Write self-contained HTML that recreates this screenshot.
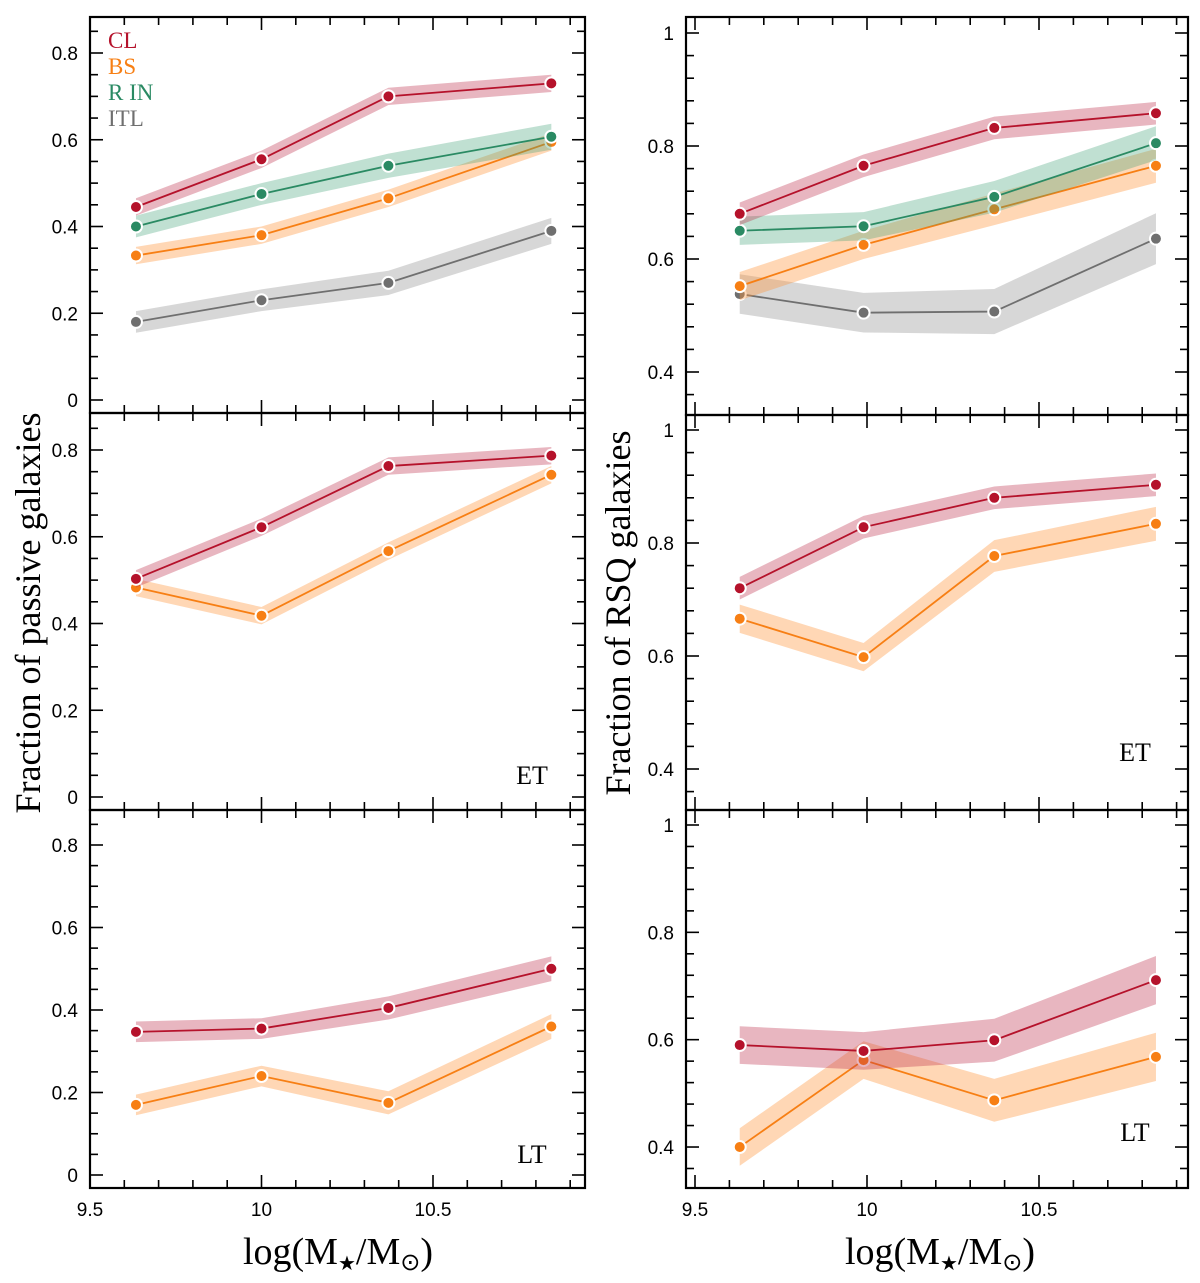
<!DOCTYPE html>
<html><head><meta charset="utf-8"><style>
body{margin:0;background:#fff}
svg text{font-family:"Liberation Sans",sans-serif}
.serif{font-family:"Liberation Serif",serif}
</style></head><body>
<svg id="chart" width="1200" height="1278" xmlns="http://www.w3.org/2000/svg"></svg>
<script>
const xValsL=[9.634,10.0,10.37,10.845];
const xValsR=[9.63,9.99,10.37,10.84];
const xTicks=[9.5,10,10.5];
const yTicksL=[0,0.2,0.4,0.6,0.8];
const yTicksR=[0.4,0.6,0.8,1];
// left top
const ltCL=[0.445,0.555,0.70,0.73], ltBS=[0.333,0.38,0.465,0.595], ltRIN=[0.40,0.475,0.54,0.607], ltITL=[0.18,0.23,0.27,0.39];
// left ET
const leCL=[0.503,0.622,0.763,0.787], leBS=[0.483,0.418,0.567,0.743];
// left LT
const llCL=[0.347,0.355,0.405,0.50], llBS=[0.17,0.24,0.175,0.36];
// right top
const rtCL=[0.68,0.765,0.832,0.858], rtBS=[0.552,0.625,0.688,0.765], rtRIN=[0.65,0.658,0.71,0.805], rtITL=[0.538,0.505,0.507,0.636];
// right ET
const reCL=[0.72,0.828,0.88,0.903], reBS=[0.666,0.598,0.777,0.834];
// right LT
const rlCL=[0.59,0.579,0.599,0.711], rlBS=[0.40,0.562,0.487,0.568];
// band half-widths
const bandSmall=[0.02,0.02,0.02,0.02], bandMid=[0.025,0.025,0.028,0.03], bandWide=[0.035,0.035,0.04,0.045];

const NS="http://www.w3.org/2000/svg";
const svg=document.getElementById('chart');
function el(tag,attrs,parent){const e=document.createElementNS(NS,tag);for(const k in attrs)e.setAttribute(k,attrs[k]);(parent||svg).appendChild(e);return e;}
const COL={CL:['#b5122b','rgba(190,45,75,0.35)'],BS:['#f77f14','rgba(255,150,60,0.38)'],RIN:['#2a8a63','rgba(60,160,115,0.32)'],ITL:['#6f6f6f','rgba(150,150,150,0.38)']};

function panel(name,box,xa,ya,yTicks,yMinor,series,tag,showX){
  const g=el('g',{});
  
  
  const X=v=>xa[0]+(v-9.5)*xa[1];
  const Y=v=>ya[0]-v*ya[1];
  series.forEach(s=>{
    const c=COL[s.k];
    const up=s.xs.map((x,i)=>X(x)+','+Y(s.v[i]+s.b[i])).join(' ');
    const dn=s.xs.map((x,i)=>X(x)+','+Y(s.v[i]-s.b[i])).reverse().join(' ');
    const band=el('polygon',{points:up+' '+dn,fill:c[1]},g);
    
    
    const line=el('polyline',{points:s.xs.map((x,i)=>X(x)+','+Y(s.v[i])).join(' '),fill:'none',stroke:c[0],'stroke-width':1.8},g);
    
    
    s.xs.forEach((x,i)=>{
      const p=el('circle',{cx:X(x),cy:Y(s.v[i]),r:6,fill:c[0],stroke:'#fff','stroke-width':2},g);
      
      
    });
  });
  const f=el('rect',{x:box[0],y:box[1],width:box[2]-box[0],height:box[3]-box[1],fill:'none',stroke:'#000','stroke-width':2.2},g);
  
  
  for(let t=9.4;t<=11.0001;t+=0.1){
    const x=X(t); if(x<box[0]+1||x>box[2]-1)continue;
    const maj=Math.abs(t*2-Math.round(t*2))<1e-6;
    const L=maj?13:8;
    el('line',{x1:x,x2:x,y1:box[3],y2:box[3]-L,stroke:'#000','stroke-width':1.6},g);
    el('line',{x1:x,x2:x,y1:box[1],y2:box[1]+L,stroke:'#000','stroke-width':1.6},g);
  }
  if(showX) xTicks.forEach(t=>{
    const tx=el('text',{x:X(t),y:box[3]+28,'font-size':19,'text-anchor':'middle'},g);
    tx.textContent=String(t);
    
    
  });
  for(let v=-0.2;v<=1.2;v+=yMinor){
    const y=Y(v); if(y<box[1]+1||y>box[3]-1)continue;
    const maj=yTicks.some(t=>Math.abs(t-v)<1e-6);
    const L=maj?13:8;
    el('line',{x1:box[0],x2:box[0]+L,y1:y,y2:y,stroke:'#000','stroke-width':1.6},g);
    el('line',{x1:box[2],x2:box[2]-L,y1:y,y2:y,stroke:'#000','stroke-width':1.6},g);
  }
  yTicks.forEach(t=>{
    const y=Y(t); if(y<box[1]||y>box[3])return;
    const tx=el('text',{x:box[0]-12,y:y+7,'font-size':19,'text-anchor':'end'},g);
    tx.textContent=String(t);
    
    
  });
  if(tag){
    const tx=el('text',{x:tag[1],y:tag[2],'font-size':26,'text-anchor':'middle',class:'serif'},g);
    tx.textContent=tag[0];
    
    
  }
}
const S=(k,xs,v,b)=>({k,xs,v,b});
const xaL=[90,343], xaR=[695,344];
panel('left-top-panel',[90,17,585,413],xaL,[400,433.75],yTicksL,0.05,
 [S('ITL',xValsL,ltITL,bandMid),S('BS',xValsL,ltBS,bandSmall),S('RIN',xValsL,ltRIN,bandMid),S('CL',xValsL,ltCL,bandSmall)],null,false);
panel('left-et-panel',[90,413,585,810],xaL,[797,433.75],yTicksL,0.05,
 [S('BS',xValsL,leBS,bandSmall),S('CL',xValsL,leCL,bandSmall)],['ET',532,784],false);
panel('left-lt-panel',[90,810,585,1188],xaL,[1175,412.5],yTicksL,0.05,
 [S('BS',xValsL,llBS,bandMid),S('CL',xValsL,llCL,bandMid)],['LT',532,1163],true);
panel('right-top-panel',[686,17,1188,415],xaR,[33+565,565],yTicksR,0.04,
 [S('ITL',xValsR,rtITL,bandWide),S('BS',xValsR,rtBS,bandMid),S('RIN',xValsR,rtRIN,bandMid),S('CL',xValsR,rtCL,bandSmall)],null,false);
panel('right-et-panel',[686,415,1188,810],xaR,[430+565,565],yTicksR,0.04,
 [S('BS',xValsR,reBS,bandMid),S('CL',xValsR,reCL,bandSmall)],['ET',1135,761],false);
panel('right-lt-panel',[686,810,1188,1188],xaR,[825+536.7,536.7],yTicksR,0.04,
 [S('BS',xValsR,rlBS,bandWide),S('CL',xValsR,rlCL,bandWide)],['LT',1135,1141],true);

[['CL',48],['BS',74],['RIN',100],['ITL',126]].forEach(([k,y])=>{
  const t=el('text',{x:108,y:y,'font-size':23,fill:COL[k][0],class:'serif'});
  t.textContent=k==='RIN'?'R IN':k;
  
  
});
function title(txt,x,y,rot,name){
  const t=el('text',{x:x,y:y,'font-size':36,'text-anchor':'middle',class:'serif',transform:rot?`rotate(-90 ${x} ${y})`:''});
  t.textContent=txt;
  
  
}
function xtitle(x,name){
  const t=el('text',{x:x,y:1264,'font-size':38,'text-anchor':'middle',class:'serif'});
  t.innerHTML='log(M<tspan font-size="20" dy="6">\u2605</tspan><tspan dy="-6">/M</tspan><tspan font-size="24" dy="6">\u2299</tspan><tspan dy="-6">)</tspan>';
  
  
}
title('Fraction of passive galaxies',40,613,true,'y-axis-title-left');
title('Fraction of RSQ galaxies',630,613,true,'y-axis-title-right');
xtitle(338,'x-axis-title-left');
xtitle(940,'x-axis-title-right');
</script>
</body></html>
